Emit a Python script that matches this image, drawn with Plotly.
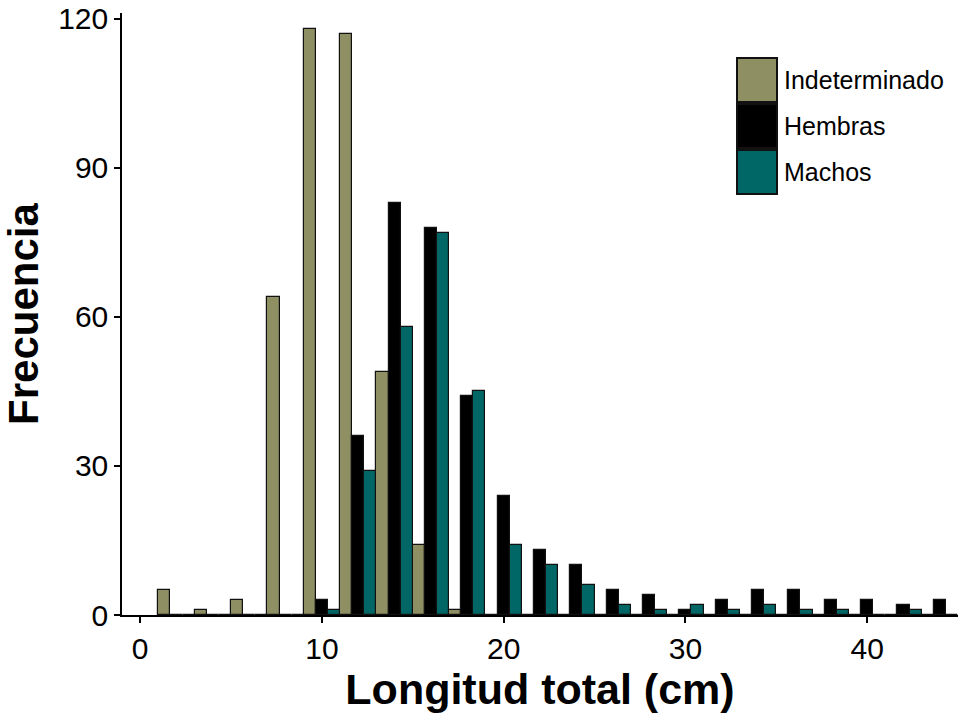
import plotly.graph_objects as go

# Bin centres (cm), bin width 2
longitud = [2, 4, 6, 8, 10, 12, 14, 16, 18, 20, 22, 24, 26, 28, 30, 32, 34, 36, 38, 40, 42, 44]

indeterminado = [5, 1, 3, 64, 118, 117, 49, 14, 1, 0, 0, 0, 0, 0, 0, 0, 0, 0, 0, 0, 0, 0]
hembras       = [0, 0, 0, 0, 3, 36, 83, 78, 44, 24, 13, 10, 5, 4, 1, 3, 5, 5, 3, 3, 2, 3]
machos        = [0, 0, 0, 0, 1, 29, 58, 77, 45, 14, 10, 6, 2, 1, 2, 1, 2, 1, 1, 0, 1, 0]

series_names = ["Indeterminado", "Hembras", "Machos"]
series_values = [indeterminado, hembras, machos]
series_colors = ["#8f8f64", "#000000", "#006666"]

x_ticks = [0, 10, 20, 30, 40]
y_ticks = [0, 30, 60, 90, 120]

FONT = "Liberation Sans, Arial, sans-serif"

fig = go.Figure()
for name, vals, col in zip(series_names, series_values, series_colors):
    fig.add_trace(go.Bar(
        x=longitud, y=vals, name=name, offsetgroup=name,
        marker=dict(color=col, line=dict(color="#111111", width=1.2)),
        showlegend=False,
    ))

# Legend drawn as large keys (paper coordinates)
W, H = 958, 717
ml, mr, mt, mb = 122, 0, 13, 102
pw, ph = W - ml - mr, H - mt - mb

def px(xp):
    return (xp - ml) / pw

def py(yp):
    return (H - mb - yp) / ph

row_tops = [58, 104, 150]
row_h = 44
for name, col, top in zip(series_names, series_colors, row_tops):
    fig.add_shape(type="rect", xref="paper", yref="paper",
                  x0=px(737), x1=px(777), y0=py(top + row_h), y1=py(top),
                  fillcolor=col, line=dict(color="#111111", width=2))
    fig.add_annotation(xref="paper", yref="paper", x=px(782), y=py(top + row_h / 2),
                       text=name, showarrow=False, xanchor="left", yanchor="middle",
                       font=dict(family=FONT, size=25, color="black"))

fig.update_layout(
    width=W, height=H,
    margin=dict(l=ml, r=mr, t=mt, b=mb),
    paper_bgcolor="white", plot_bgcolor="white",
    barmode="group", bargap=0, bargroupgap=0,
    font=dict(family=FONT, color="black"),
)
fig.update_xaxes(
    range=[-1, 45], tickvals=x_ticks, ticktext=[str(v) for v in x_ticks],
    showgrid=False, zeroline=False, showline=True, linecolor="black", linewidth=1.5,
    ticks="outside", ticklen=6, tickwidth=1.5, tickcolor="black",
    tickfont=dict(family=FONT, size=30, color="black"),
    title=dict(text="<b>Longitud total (cm)</b>", font=dict(family=FONT, size=43, color="black"), standoff=4),
)
fig.update_yaxes(
    range=[0, 121.2], tickvals=y_ticks, ticktext=[str(v) for v in y_ticks],
    showgrid=False, zeroline=False, showline=True, linecolor="black", linewidth=1.5,
    ticks="outside", ticklen=6, tickwidth=1.5, tickcolor="black",
    tickfont=dict(family=FONT, size=30, color="black"),
    title=dict(text="<b>Frecuencia</b>", font=dict(family=FONT, size=42, color="black"), standoff=8),
)

fig.write_html("out.html")
